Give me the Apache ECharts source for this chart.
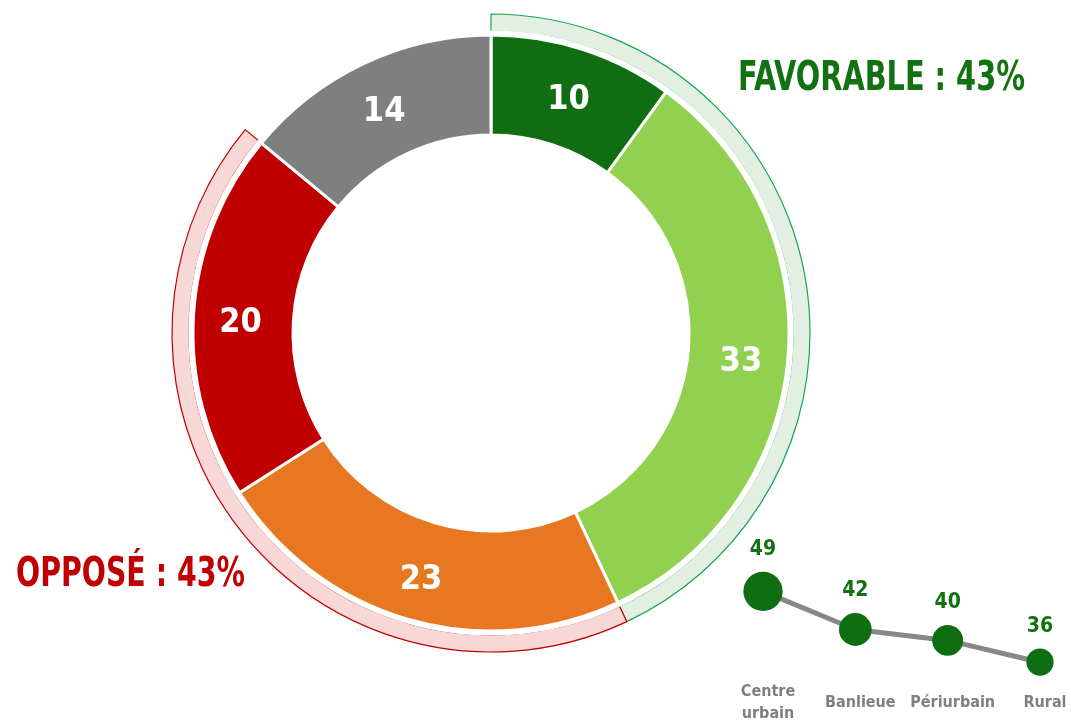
<!DOCTYPE html>
<html>
<head>
<meta charset="utf-8">
<script src="https://cdn.jsdelivr.net/npm/echarts@6/dist/echarts.min.js"></script>
<style>
  html, body { margin: 0; padding: 0; background: #ffffff; }
  #chart { width: 1071px; height: 725px; }
</style>
</head>
<body>
<div id="chart"></div>
<script>
// Répartition des opinions (%)
const opinionLabels = ['Très favorable', 'Plutôt favorable', 'Plutôt opposé', 'Très opposé', 'Sans opinion'];
const opinionValues = [10, 33, 23, 20, 14];
const opinionColors = ['#0f6e12', '#92d050', '#e87722', '#c00000', '#7f7f7f'];

// Regroupements affichés en arc autour de l'anneau
const groupLabels = ['FAVORABLE', 'OPPOSÉ'];
const groupValues = [43, 43];

// Part favorable selon le type de territoire
const territoryLabels = ['Centre\nurbain', 'Banlieue', 'Périurbain', 'Rural'];
const territoryValues = [49, 42, 40, 36];

const FONT = "'DejaVu Sans Condensed', 'DejaVu Sans', sans-serif";
const CENTER = [491, 333];
const restValue = 100 - groupValues[0] - groupValues[1];

const chart = echarts.init(document.getElementById('chart'), null, { renderer: 'canvas' });

chart.setOption({
  backgroundColor: '#ffffff',
  animation: false,
  grid: { left: 763, right: 31, top: 575, height: 118 },
  xAxis: {
    type: 'category',
    data: territoryLabels,
    boundaryGap: false,
    axisLine: { show: false },
    axisTick: { show: false },
    axisLabel: {
      color: '#7f7f7f',
      fontFamily: FONT,
      fontWeight: 'bold',
      fontSize: 16,
      lineHeight: 22,
      verticalAlign: 'middle',
      margin: 19,
      padding: [0, 0, 0, 10],
      interval: 0
    }
  },
  yAxis: {
    type: 'value',
    min: 32,
    max: 52,
    show: false,
    splitLine: { show: false }
  },
  graphic: [
    {
      type: 'text',
      x: 738,
      y: 79,
      scaleX: 0.78,
      style: {
        text: groupLabels[0] + ' : ' + groupValues[0] + '%',
        fill: '#127212',
        font: 'bold 41px ' + FONT,
        align: 'left',
        verticalAlign: 'middle'
      }
    },
    {
      type: 'text',
      x: 16,
      y: 575,
      scaleX: 0.77,
      style: {
        text: groupLabels[1] + ' : ' + groupValues[1] + '%',
        fill: '#c00000',
        font: 'bold 41px ' + FONT,
        align: 'left',
        verticalAlign: 'middle'
      }
    }
  ],
  series: [
    {
      // arcs de regroupement
      type: 'pie',
      center: CENTER,
      radius: [302, 319],
      startAngle: 90,
      clockwise: true,
      silent: true,
      label: { show: false },
      labelLine: { show: false },
      data: [
        { name: groupLabels[0], value: groupValues[0],
          itemStyle: { color: '#e4efe4', borderColor: '#13a84e', borderWidth: 1.2 } },
        { name: groupLabels[1], value: groupValues[1],
          itemStyle: { color: '#f8d7d7', borderColor: '#c00000', borderWidth: 1.2 } },
        { name: '', value: restValue,
          itemStyle: { color: 'rgba(0,0,0,0)', borderWidth: 0 } }
      ]
    },
    {
      // liseré blanc côté intérieur des arcs
      type: 'pie',
      center: CENTER,
      radius: [299, 302.6],
      silent: true,
      label: { show: false },
      labelLine: { show: false },
      data: [{ value: 1, itemStyle: { color: '#ffffff' } }]
    },
    {
      type: 'pie',
      center: CENTER,
      radius: [198, 298],
      startAngle: 90,
      clockwise: true,
      silent: true,
      itemStyle: { borderColor: '#ffffff', borderWidth: 3 },
      label: {
        show: true,
        position: 'inside',
        color: '#ffffff',
        fontFamily: FONT,
        fontWeight: 'bold',
        fontSize: 34,
        formatter: p => String(p.value)
      },
      labelLayout: { dy: 6 },
      labelLine: { show: false },
      data: opinionValues.map((v, i) => ({
        name: opinionLabels[i],
        value: v,
        itemStyle: { color: opinionColors[i] }
      }))
    },
    {
      type: 'line',
      data: territoryValues,
      symbol: 'circle',
      symbolSize: v => (v - 6.75) * 0.93,
      lineStyle: { color: '#888888', width: 5 },
      itemStyle: { color: '#0f6e12', borderWidth: 0 },
      label: {
        show: true,
        position: 'top',
        distance: 12,
        color: '#127212',
        fontFamily: FONT,
        fontWeight: 'bold',
        fontSize: 21
      },
      z: 3
    }
  ]
});
</script>
</body>
</html>
